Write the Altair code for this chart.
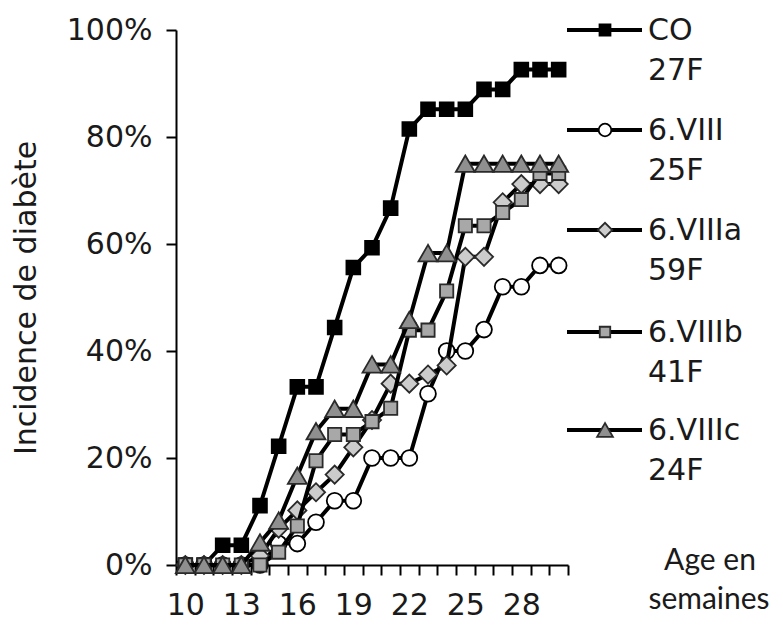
import altair as alt
import pandas as pd

weeks = list(range(10, 31))
co = [0, 0, 3.7, 3.7, 11.1, 22.2, 33.3, 33.3, 44.4, 55.6, 59.3, 66.7, 81.5, 85.2, 85.2, 85.2, 88.9, 88.9, 92.6, 92.6, 92.6]
viii = [0, 0, 0, 0, 0, 4, 4, 8, 12, 12, 20, 20, 20, 32, 40, 40, 44, 52, 52, 56, 56]
viiia = [0, 0, 0, 0, 1.7, 6.8, 10.2, 13.6, 16.9, 22.0, 27.1, 33.9, 33.9, 35.6, 37.3, 57.6, 57.6, 67.8, 71.2, 71.2, 71.2]
viiib = [0, 0, 0, 0, 0, 2.4, 7.3, 19.5, 24.4, 24.4, 26.8, 29.3, 43.9, 43.9, 51.2, 63.4, 63.4, 65.9, 68.3, 73.2, 73.2]
viiic = [0, 0, 0, 0, 4.2, 8.3, 16.7, 25.0, 29.2, 29.2, 37.5, 37.5, 45.8, 58.3, 58.3, 75, 75, 75, 75, 75, 75]

series_names = ["CO", "6.VIII", "6.VIIIa", "6.VIIIb", "6.VIIIc"]
series_counts = ["27F", "25F", "59F", "41F", "24F"]
series_values = [co, viii, viiia, viiib, viiic]
x_label_weeks = [10, 13, 16, 19, 22, 25, 28]
y_ticks = [0, 0.2, 0.4, 0.6, 0.8, 1.0]

shapes = ["square", "circle", "diamond", "square", "triangle-up"]
fills = ["#000000", "#ffffff", "#cccccc", "#a8a8a8", "#8f8f8f"]
strokes = ["#000000", "#000000", "#2a2a2a", "#2a2a2a", "#2a2a2a"]
sizes = [190, 250, 330, 175, 360]
leg_sizes = [120, 160, 210, 110, 250]

rows = []
for name, vals in zip(series_names, series_values):
    for w, v in zip(weeks, vals):
        rows.append({"series": name, "week": w, "pct": v / 100})
df = pd.DataFrame(rows)
legend_df = pd.DataFrame({"series": series_names, "count": series_counts})

FONT = "DejaVu Sans"
FS = 30

boundaries = [w - 0.5 for w in weeks] + [weeks[-1] + 0.5]
x_values = sorted(boundaries + x_label_weeks)

x_enc = alt.X(
    "week:Q",
    scale=alt.Scale(domain=[9.5, 30.5], nice=False, zero=False),
    axis=alt.Axis(
        values=x_values,
        title=None,
        grid=False,
        labelExpr="datum.value % 1 == 0 ? datum.label : ''",
        tickOpacity={"condition": {"test": "datum.value % 1 == 0", "value": 0}, "value": 1},
        labelOverlap=False,
        labelFlush=False,
        tickSize=10,
        labelPadding=15,
    ),
)
y_enc = alt.Y(
    "pct:Q",
    scale=alt.Scale(domain=[0, 1], nice=False),
    axis=alt.Axis(
        values=y_ticks,
        format=".0%",
        title="Incidence de diabète",
        titleFontSize=30,
        titleFontWeight="normal",
        titleFont=FONT,
        titleColor="#1a1a1a",
        titlePadding=25,
        grid=False,
        tickSize=10,
        labelPadding=14,
    ),
)

layers = []
for i, name in enumerate(series_names):
    base = alt.Chart(df).transform_filter(alt.datum.series == name)
    layers.append(
        base.mark_line(color="black", strokeWidth=4).encode(x=x_enc, y=y_enc, order="week:Q")
    )
    layers.append(
        base.mark_point(
            shape=shapes[i], filled=True, fill=fills[i], stroke=strokes[i],
            strokeWidth=1.8, size=sizes[i], opacity=1,
        ).encode(x=x_enc, y=y_enc)
    )

# legend (drawn at the right of the plot)
leg_x1, leg_x2, leg_xm, leg_xt = 391, 466, 429, 472
leg_y = [0, 100, 200, 302, 400]
for i, name in enumerate(series_names):
    lbase = alt.Chart(legend_df).transform_filter(alt.datum.series == name)
    layers.append(
        lbase.mark_rule(color="black", strokeWidth=4).encode(
            x=alt.value(leg_x1), x2=alt.value(leg_x2), y=alt.value(leg_y[i])
        )
    )
    layers.append(
        lbase.mark_point(
            shape=shapes[i], filled=True, fill=fills[i], stroke=strokes[i],
            strokeWidth=1.8, size=leg_sizes[i], opacity=1,
        ).encode(x=alt.value(leg_xm), y=alt.value(leg_y[i]))
    )
    layers.append(
        lbase.mark_text(align="left", baseline="middle", font=FONT, fontSize=FS, color="#1a1a1a").encode(
            text="series:N", x=alt.value(leg_xt), y=alt.value(leg_y[i] + 1)
        )
    )
    layers.append(
        lbase.mark_text(align="left", baseline="middle", font=FONT, fontSize=FS, color="#1a1a1a").encode(
            text="count:N", x=alt.value(leg_xt), y=alt.value(leg_y[i] + 41)
        )
    )

axis_title_df = pd.DataFrame({"t": ["Age en", "semaines"]})
layers.append(
    alt.Chart(axis_title_df).transform_filter(alt.datum.t == "Age en").mark_text(
        align="center", baseline="middle", font="Lato", fontSize=30, color="#1a1a1a"
    ).encode(text="t:N", x=alt.value(534), y=alt.value(531))
)
layers.append(
    alt.Chart(axis_title_df).transform_filter(alt.datum.t == "semaines").mark_text(
        align="center", baseline="middle", font="Lato", fontSize=30, color="#1a1a1a"
    ).encode(text="t:N", x=alt.value(533), y=alt.value(570))
)

chart = alt.layer(*layers).properties(
    width=392,
    height=535,
    autosize=alt.AutoSizeParams(type="none"),
    padding={"left": 168, "top": 22, "right": 207, "bottom": 55},
).configure_view(stroke=None).configure_axis(
    domainColor="black",
    domainWidth=2,
    tickColor="black",
    tickWidth=2,
    labelFont=FONT,
    labelFontSize=FS,
    labelColor="#1a1a1a",
)

chart.save("out.html", embed_options={"renderer": "svg", "actions": False})
